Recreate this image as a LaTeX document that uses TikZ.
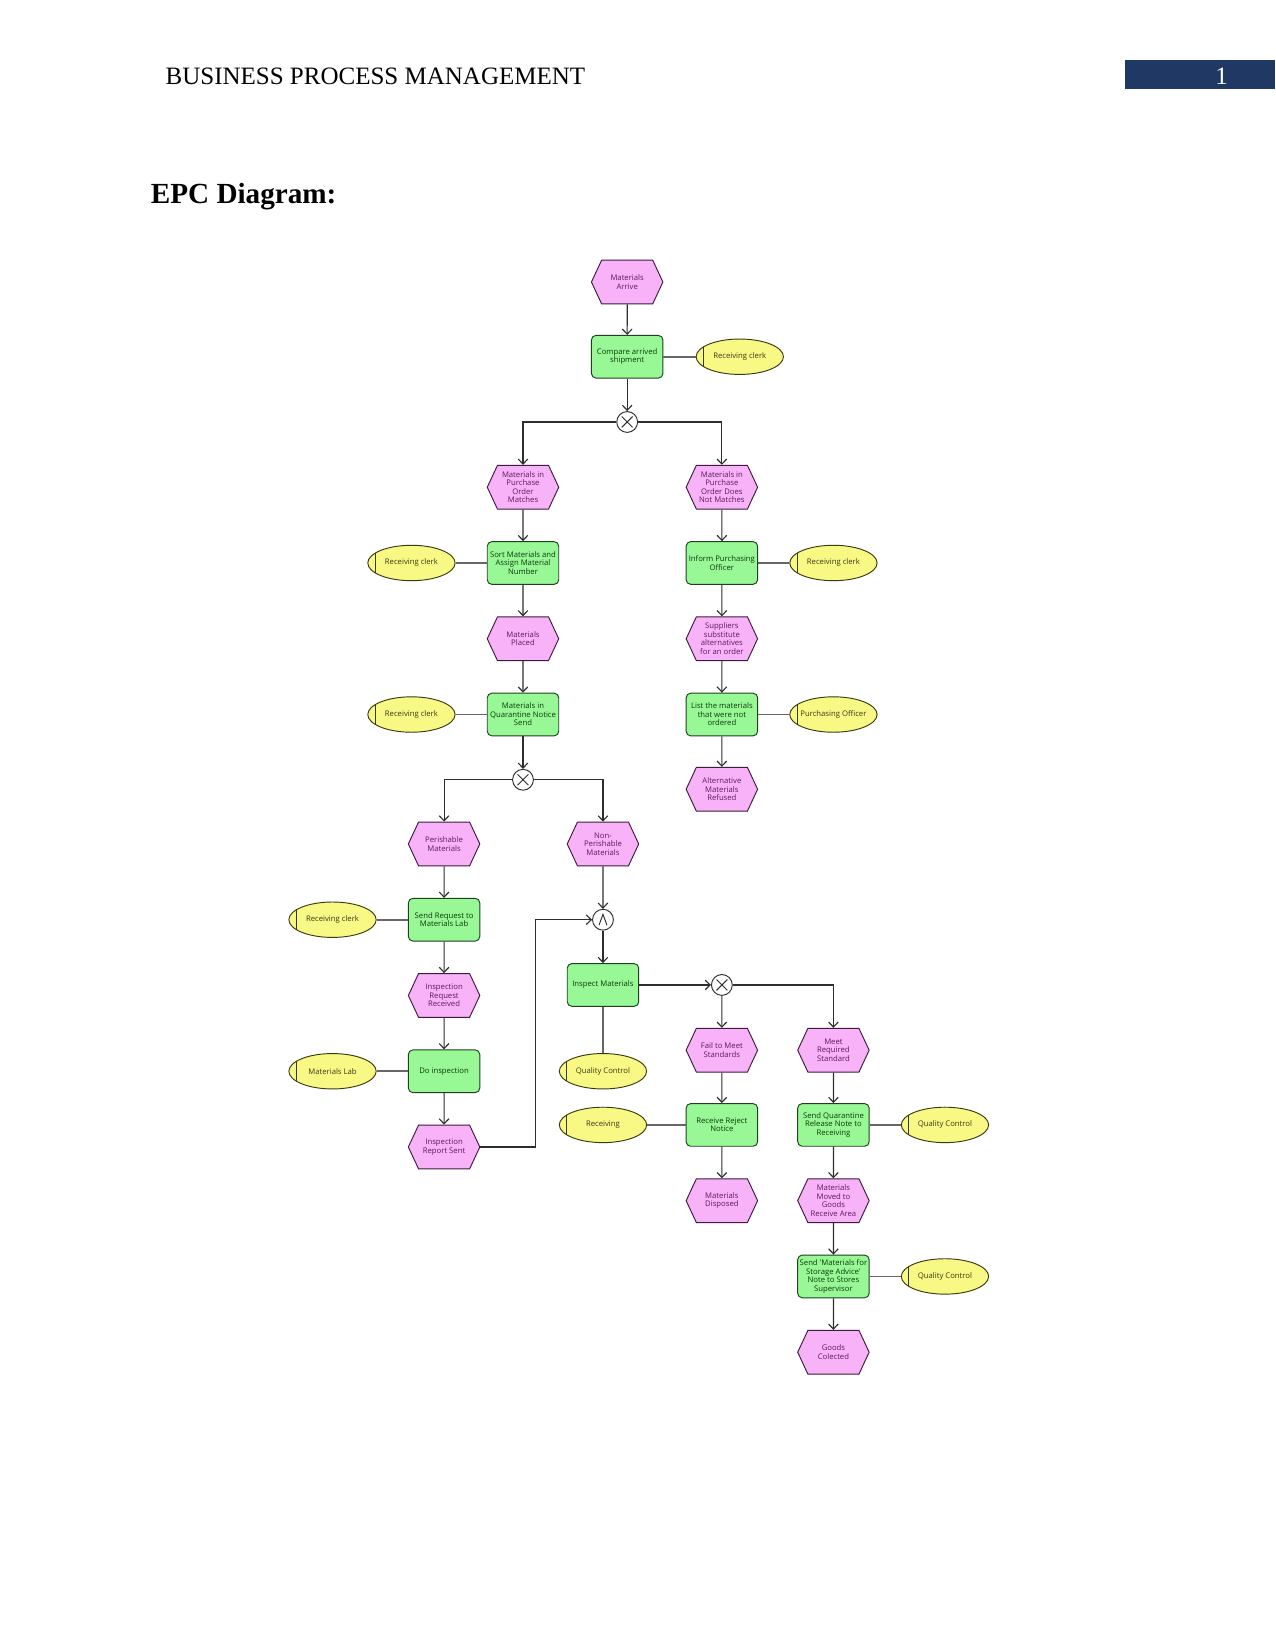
\documentclass[tikz,border=0pt]{standalone}
\usepackage{fontspec}
\setmainfont{Liberation Serif}
\newfontfamily\epcsans{Open Sans}
\usepackage{tikz}
\usetikzlibrary{arrows.meta,shapes.symbols,shapes.geometric}
\definecolor{EpcEvent}{HTML}{F8B2F8}
\definecolor{EpcEventLine}{HTML}{3E1A3E}
\definecolor{EpcEventText}{HTML}{5C1A5C}
\definecolor{EpcFunc}{HTML}{98F896}
\definecolor{EpcFuncLine}{HTML}{1F3F1F}
\definecolor{EpcFuncText}{HTML}{0A3A0A}
\definecolor{EpcOrg}{HTML}{F8F884}
\definecolor{EpcOrgLine}{HTML}{3A3A10}
\definecolor{EpcOrgText}{HTML}{3A3A18}
\definecolor{EpcLink}{HTML}{2E2E2E}
\definecolor{HeaderNavy}{HTML}{1F3864}
\tikzset{
  epctext/.style={align=center,font=\epcsans\fontsize{3.7}{4.05}\selectfont,inner sep=0.6pt},
  event/.style={epctext,signal,signal to=east and west,signal pointer angle=130,draw=EpcEventLine,fill=EpcEvent,text=EpcEventText,line width=0.45pt,minimum width=34.3pt,minimum height=21pt},
  func/.style={epctext,rectangle,rounded corners=2.2pt,draw=EpcFuncLine,fill=EpcFunc,text=EpcFuncText,line width=0.45pt,minimum width=34.3pt,minimum height=20.5pt},
  org/.style={epctext,ellipse,inner xsep=-2pt,draw=EpcOrgLine,fill=EpcOrg,text=EpcOrgText,line width=0.45pt,minimum width=41.9pt,minimum height=17pt,
    path picture={\draw[EpcOrgLine,line width=0.55pt] ([xshift=3.6pt]path picture bounding box.south west) -- ([xshift=3.6pt]path picture bounding box.north west);}},
  xorc/.style={circle,draw=EpcLink,fill=white,line width=0.45pt,minimum size=10pt,inner sep=0pt,
    path picture={\draw[EpcLink,line width=0.45pt]
      ([xshift=-2.6pt,yshift=2.6pt]path picture bounding box.center) -- ([xshift=2.6pt,yshift=-2.6pt]path picture bounding box.center)
      ([xshift=-2.6pt,yshift=-2.6pt]path picture bounding box.center) -- ([xshift=2.6pt,yshift=2.6pt]path picture bounding box.center);}},
  andc/.style={circle,draw=EpcLink,fill=white,line width=0.45pt,minimum size=10pt,inner sep=0pt,
    path picture={\draw[EpcLink,line width=0.45pt]
      ([xshift=-1.9pt,yshift=-2.6pt]path picture bounding box.center) -- ([yshift=2.6pt]path picture bounding box.center)
      -- ([xshift=1.9pt,yshift=-2.6pt]path picture bounding box.center);}},
  flow/.style={-{Straight Barb[length=2.4pt,width=4.6pt]},line width=0.55pt,draw=EpcLink},
  assign/.style={line width=0.8pt,draw=black!60}
}

\begin{document}
\begin{tikzpicture}[x=0.505pt,y=-0.505pt]
  \useasboundingbox (0,0) rectangle (1212,1568);

  % Page header and heading.
  \node[anchor=base west,font=\fontsize{12}{14}\selectfont,inner sep=0pt] (header) at (157,80) {BUSINESS PROCESS MANAGEMENT};
  \node[fill=HeaderNavy,inner sep=0pt,minimum width=72.2pt,minimum height=14.1pt] (pagebox) at (1140.5,71) {};
  \node[anchor=base,text=white,font=\fontsize{12}{14}\selectfont,inner sep=0pt] (pagenum) at (1161,80) {1};
  \node[anchor=base west,font=\fontsize{14}{16}\selectfont\bfseries,inner sep=0pt] (title) at (143,193) {EPC Diagram:};

  % Arrival and order check.
  \node[event] (arrive) at (596,268) {Materials\\Arrive};
  \node[func] (compare) at (596,339) {Compare arrived\\shipment};
  \node[org] (clerkA) at (703,339) {Receiving clerk};
  \node[xorc] (xorA) at (596,401) {};

  % Order matches.
  \node[event] (poMatch) at (497,463) {Materials in\\Purchase\\Order\\Matches};
  \node[func] (sort) at (497,535) {Sort Materials and\\Assign Material\\Number};
  \node[org] (clerkB) at (391,535) {Receiving clerk};
  \node[event] (placed) at (497,607) {Materials\\Placed};
  \node[func] (quarantine) at (497,679) {Materials in\\Quarantine Notice\\Send};
  \node[org] (clerkD) at (391,679) {Receiving clerk};
  \node[xorc] (xorB) at (497,741) {};

  % Order does not match.
  \node[event] (poNoMatch) at (686,463) {Materials in\\Purchase\\Order Does\\Not Matches};
  \node[func] (inform) at (686,535) {Inform Purchasing\\Officer};
  \node[org] (clerkC) at (792,535) {Receiving clerk};
  \node[event] (substitute) at (686,607) {Suppliers\\substitute\\alternatives\\for an order};
  \node[func] (listNot) at (686,679) {List the materials\\that were not\\ordered};
  \node[org] (officer) at (792,679) {Purchasing Officer};
  \node[event] (refused) at (686,750) {Alternative\\Materials\\Refused};

  % Perishable path through the lab.
  \node[event] (perish) at (422,802) {Perishable\\Materials};
  \node[func] (request) at (422,874) {Send Request to\\Materials Lab};
  \node[org] (clerkE) at (316,874) {Receiving clerk};
  \node[event] (reqRecv) at (422,946) {Inspection\\Request\\Received};
  \node[func] (doInsp) at (422,1018) {Do inspection};
  \node[org] (lab) at (316,1018) {Materials Lab};
  \node[event] (reportSent) at (422,1090) {Inspection\\Report Sent};
  \coordinate (backUp) at (509,874);

  % Inspection.
  \node[event] (nonPerish) at (573,802) {Non-\\Perishable\\Materials};
  \node[andc] (andA) at (573,874) {};
  \node[func] (inspect) at (573,936) {Inspect Materials};
  \node[org] (qcA) at (573,1018) {Quality Control};
  \node[xorc] (xorC) at (686,936) {};

  % Inspection outcome.
  \node[event] (failStd) at (686,998) {Fail to Meet\\Standards};
  \node[func] (reject) at (686,1069) {Receive Reject\\Notice};
  \node[org] (receiving) at (573,1069) {Receiving};
  \node[event] (disposed) at (686,1141) {Materials\\Disposed};
  \node[event] (meetStd) at (792,998) {Meet\\Required\\Standard};
  \node[func] (release) at (792,1069) {Send Quarantine\\Release Note to\\Receiving};
  \node[org] (qcB) at (898,1069) {Quality Control};
  \node[event] (moved) at (792,1141) {Materials\\Moved to\\Goods\\Receive Area};
  \node[func] (storage) at (792,1213) {Send 'Materials for\\Storage Advice'\\Note to Stores\\Supervisor};
  \node[org] (qcC) at (898,1213) {Quality Control};
  \node[event] (collected) at (792,1285) {Goods\\Colected};

  % Control flow.
  \draw[flow] (arrive) -- (compare);
  \draw[flow] (compare) -- (xorA);
  \draw[flow] (xorA) -| (poMatch);
  \draw[flow] (xorA) -| (poNoMatch);
  \draw[flow] (poMatch) -- (sort);
  \draw[flow] (sort) -- (placed);
  \draw[flow] (placed) -- (quarantine);
  \draw[flow] (quarantine) -- (xorB);
  \draw[flow] (poNoMatch) -- (inform);
  \draw[flow] (inform) -- (substitute);
  \draw[flow] (substitute) -- (listNot);
  \draw[flow] (listNot) -- (refused);
  \draw[flow] (xorB) -| (perish);
  \draw[flow] (xorB) -| (nonPerish);
  \draw[flow] (perish) -- (request);
  \draw[flow] (request) -- (reqRecv);
  \draw[flow] (reqRecv) -- (doInsp);
  \draw[flow] (doInsp) -- (reportSent);
  \draw[flow] (reportSent.east) -| (backUp) -- (andA);
  \draw[flow] (nonPerish) -- (andA);
  \draw[flow] (andA) -- (inspect);
  \draw[flow] (inspect) -- (xorC);
  \draw[flow] (xorC) -- (failStd);
  \draw[flow] (xorC) -| (meetStd);
  \draw[flow] (failStd) -- (reject);
  \draw[flow] (reject) -- (disposed);
  \draw[flow] (meetStd) -- (release);
  \draw[flow] (release) -- (moved);
  \draw[flow] (moved) -- (storage);
  \draw[flow] (storage) -- (collected);

  % Organisational units.
  \draw[assign] (compare) -- (clerkA);
  \draw[assign] (sort) -- (clerkB);
  \draw[assign] (quarantine) -- (clerkD);
  \draw[assign] (inform) -- (clerkC);
  \draw[assign] (listNot) -- (officer);
  \draw[assign] (request) -- (clerkE);
  \draw[assign] (doInsp) -- (lab);
  \draw[assign] (inspect) -- (qcA);
  \draw[assign] (reject) -- (receiving);
  \draw[assign] (release) -- (qcB);
  \draw[assign] (storage) -- (qcC);
\end{tikzpicture}
\end{document}
